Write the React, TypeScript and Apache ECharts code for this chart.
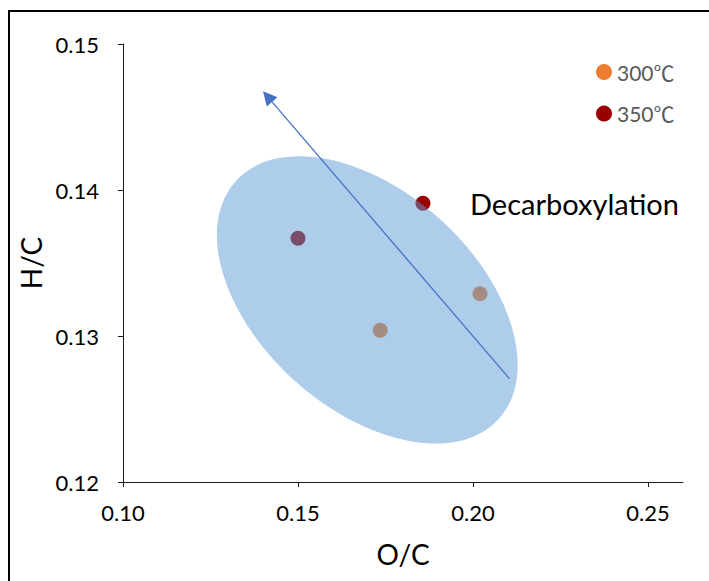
import React, { useEffect, useRef } from "react";
import * as echarts from "echarts";

const FONT = "Lato, 'Noto Sans CJK SC', sans-serif";

const seriesNames = ["300℃", "350℃"];
const colors300 = "#ed7d31";
const colors350 = "#990000";
// [O/C, H/C]
const data300: number[][] = [
  [0.1735, 0.1304],
  [0.202, 0.1329],
];
const data350: number[][] = [
  [0.15, 0.1367],
  [0.1857, 0.1391],
];
const xTicks = [0.1, 0.15, 0.2, 0.25];
const yTicks = [0.12, 0.13, 0.14, 0.15];
// ellipse centre in data units
const ellipseCenter = [0.1698, 0.13247];
// arrow from -> to (data units)
const arrowFrom = [0.2104, 0.12708];
const arrowTo = [0.1413, 0.1464];
const annotation = "Decarboxylation";

export default function App() {
  const ref = useRef<HTMLDivElement>(null);
  useEffect(() => {
    if (!ref.current) return;
    const chart = echarts.init(ref.current, null, { renderer: "svg" });
    const axisCommon = {
      axisLine: { show: true, lineStyle: { color: "#1a1a1a", width: 1 } },
      axisTick: { show: true, inside: false, length: 5, lineStyle: { color: "#1a1a1a", width: 1 } },
      splitLine: { show: false },
    };
    chart.setOption({
      animation: false,
      backgroundColor: "#ffffff",
      textStyle: { fontFamily: FONT },
      grid: { left: 123, right: 26, top: 44, bottom: 99, containLabel: false, outerBoundsMode: "none" },
      legend: {
        data: seriesNames,
        orient: "vertical",
        left: 591,
        top: 56,
        icon: "circle",
        itemWidth: 16,
        itemHeight: 16,
        itemGap: 19.6,
        textStyle: { fontFamily: FONT, fontSize: 21, color: "#595959", lineHeight: 22 },
      },
      xAxis: {
        type: "value",
        min: 0.1,
        max: 0.26,
        interval: 0.05,
        name: "O/C",
        nameLocation: "middle",
        nameGap: 58,
        nameTextStyle: { fontFamily: FONT, fontSize: 28, color: "#000" },
        ...axisCommon,
        axisTick: { ...axisCommon.axisTick, customValues: xTicks },
        axisLabel: {
          customValues: xTicks,
          margin: 19,
          fontFamily: FONT,
          fontSize: 22,
          color: "#000",
          formatter: (v: number) => v.toFixed(2),
        },
      },
      yAxis: {
        type: "value",
        min: 0.12,
        max: 0.15,
        interval: 0.01,
        name: "H/C",
        nameLocation: "middle",
        nameGap: 73,
        nameRotate: 90,
        nameTextStyle: { fontFamily: FONT, fontSize: 28, color: "#000" },
        ...axisCommon,
        axisTick: { ...axisCommon.axisTick, customValues: yTicks },
        axisLabel: {
          customValues: yTicks,
          margin: 24,
          fontFamily: FONT,
          fontSize: 22,
          color: "#000",
          formatter: (v: number) => v.toFixed(2),
        },
      },
      graphic: [
        {
          type: "polyline",
          shape: { points: [[9, 581], [9, 11], [709, 11]] },
          style: { stroke: "#000", lineWidth: 2, fill: "none" },
          silent: true,
          z: 100,
        },
        {
          type: "text",
          left: 470,
          top: 189,
          style: { text: annotation, font: `29px ${FONT}`, fill: "#000" },
          silent: true,
        },
      ],
      series: [
        {
          name: seriesNames[0],
          type: "scatter",
          data: data300,
          symbol: "circle",
          symbolSize: 15,
          itemStyle: { color: colors300, opacity: 1 },
          z: 2,
        },
        {
          name: seriesNames[1],
          type: "scatter",
          data: data350,
          symbol: "circle",
          symbolSize: 15,
          itemStyle: { color: colors350, opacity: 1 },
          z: 2,
        },
        {
          name: "ellipse",
          type: "custom",
          data: [ellipseCenter],
          z: 3,
          silent: true,
          renderItem: (params: any, api: any) => {
            const p = api.coord([api.value(0), api.value(1)]);
            return {
              type: "ellipse",
              x: p[0],
              y: p[1],
              rotation: (-42.1 * Math.PI) / 180,
              shape: { cx: 0, cy: 0, rx: 177.3, ry: 108.7 },
              style: { fill: "rgba(91,155,213,0.5)" },
            };
          },
        },
        {
          name: "arrow",
          type: "lines",
          coordinateSystem: "cartesian2d",
          z: 4,
          silent: true,
          symbol: ["none", "triangle"],
          symbolSize: 14,
          lineStyle: { color: "#4472c4", width: 1.3, opacity: 1, curveness: 0 },
          data: [{ coords: [arrowFrom, arrowTo] }],
        },
      ],
    });
    return () => chart.dispose();
  }, []);
  return (
    <div style={{ position: "absolute", left: 0, top: 0, width: 709, height: 581 }}>
      <div ref={ref} style={{ width: 709, height: 581 }} />
    </div>
  );
}
